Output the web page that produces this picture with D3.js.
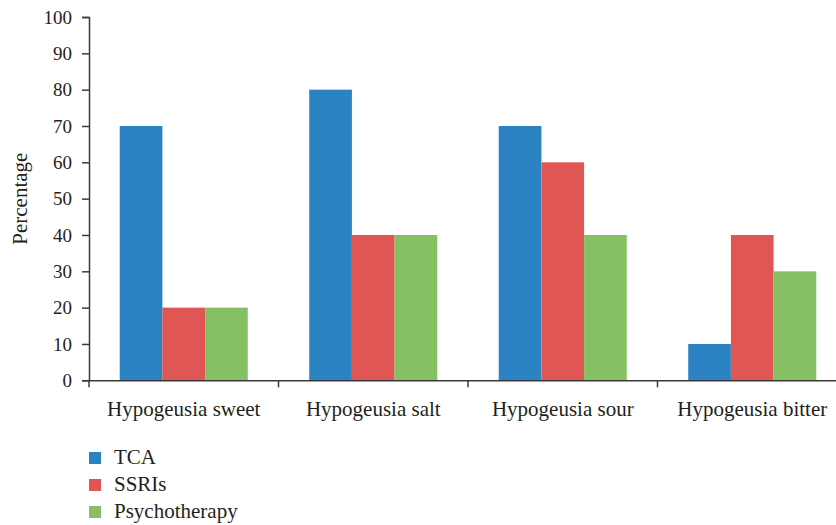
<!DOCTYPE html>
<html>
<head>
<meta charset="utf-8">
<script src="https://cdn.jsdelivr.net/npm/d3@7"></script>
<style>
  body { margin: 0; background: #fff; }
  text { font-family: "Liberation Serif", "DejaVu Serif", serif; fill: #231f20; }
</style>
</head>
<body>
<div id="chart"></div>
<script>
// data
var categories = ["Hypogeusia sweet", "Hypogeusia salt", "Hypogeusia sour", "Hypogeusia bitter"];
var seriesNames = ["TCA", "SSRIs", "Psychotherapy"];
var tcaValues = [70, 80, 70, 10];
var ssriValues = [20, 40, 60, 40];
var psychoValues = [20, 40, 40, 30];
var yTicks = [0, 10, 20, 30, 40, 50, 60, 70, 80, 90, 100];
var colors = ["#2b83c3", "#e05654", "#85c163"];

var allValues = [tcaValues, ssriValues, psychoValues];
var rows = categories.map(function(c, i) {
  return {cat: c, vals: seriesNames.map(function(s, j) { return {name: s, value: allValues[j][i]}; })};
});

var W = 836, H = 525;
var margin = {top: 17, left: 89, bottom: 145};
var plotBottom = H - margin.bottom + 0.3;

var svg = d3.select("#chart").append("svg")
  .attr("width", W)
  .attr("height", H);

var x0 = d3.scaleBand()
  .domain(categories)
  .range([margin.left, margin.left + 4 * 189.5])
  .padding(0);

var x1 = d3.scaleBand()
  .domain(seriesNames)
  .range([0, x0.bandwidth()])
  .paddingInner(0)
  .paddingOuter(0.72);

var y = d3.scaleLinear()
  .domain([0, 100])
  .range([plotBottom, margin.top]);

var color = d3.scaleOrdinal().domain(seriesNames).range(colors);

// bars
svg.append("g").selectAll("g")
  .data(rows)
  .enter().append("g")
    .attr("transform", function(d) { return "translate(" + x0(d.cat) + ",0)"; })
  .selectAll("rect")
  .data(function(d) { return d.vals; })
  .enter().append("rect")
    .attr("x", function(d) { return x1(d.name); })
    .attr("y", function(d) { return y(d.value); })
    .attr("width", x1.bandwidth())
    .attr("height", function(d) { return y(0) - y(d.value); })
    .attr("fill", function(d) { return color(d.name); });

// y axis
var yAxis = svg.append("g")
  .attr("transform", "translate(" + margin.left + ",0)")
  .call(d3.axisLeft(y).tickValues(yTicks).tickSize(7).tickPadding(10));
yAxis.selectAll("text").style("font-size", "19px");

// x axis
var xAxis = svg.append("g")
  .attr("transform", "translate(0," + plotBottom + ")")
  .call(d3.axisBottom(x0).tickSize(0).tickPadding(21));
xAxis.selectAll("text").style("font-size", "21px");
// boundary ticks between categories
xAxis.selectAll(".bound")
  .data(categories)
  .enter().append("line")
    .attr("x1", function(d) { return x0(d); })
    .attr("x2", function(d) { return x0(d); })
    .attr("y1", 0)
    .attr("y2", 7);

svg.selectAll(".domain, .tick line, line").attr("stroke", "#3a3a3a").attr("stroke-width", 1.5);

// y label
svg.append("text")
  .attr("transform", "translate(27," + (y(50)) + ") rotate(-90)")
  .attr("text-anchor", "middle")
  .style("font-size", "21px")
  .text("Percentage");

// legend
var legend = svg.append("g").selectAll("g")
  .data(seriesNames)
  .enter().append("g")
    .attr("transform", function(d, i) { return "translate(89," + (452 + i * 27) + ")"; });
legend.append("rect")
  .attr("width", 12)
  .attr("height", 12)
  .attr("fill", function(d) { return color(d); });
legend.append("text")
  .attr("x", 25)
  .attr("y", 12)
  .style("font-size", "21px")
  .text(function(d) { return d; });
</script>
</body>
</html>
